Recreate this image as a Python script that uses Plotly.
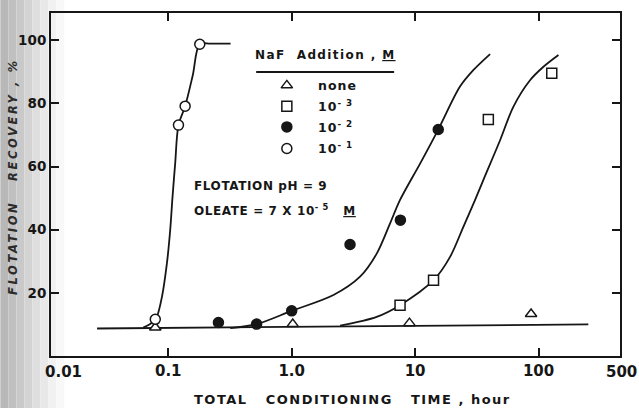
import plotly.graph_objects as go

# ---- measured points: flotation recovery (%) vs. total conditioning time (h)
# no NaF added (open triangles)
t_none = [0.0785, 1.02, 9.0, 87.0]
r_none = [9.0, 10.1, 10.4, 13.3]
# 1e-3 M NaF (open squares)
t_e3 = [7.55, 14.1, 39.2, 128.0]
r_e3 = [16.1, 24.0, 74.9, 89.5]
# 1e-2 M NaF (filled circles)
t_e2 = [0.255, 0.52, 1.0, 2.97, 7.6, 15.4]
r_e2 = [10.6, 10.1, 14.3, 35.3, 43.0, 71.7]
# 1e-1 M NaF (open circles)
t_e1 = [0.0785, 0.121, 0.137, 0.18]
r_e1 = [11.6, 73.1, 79.1, 98.7]

# ---- hand-drawn trend curves
base_t = [0.0265, 253.0]
base_r = [8.7, 10.0]
fit_e1_t = [0.0627, 0.0714, 0.0785, 0.0809, 0.0889, 0.0975, 0.1037, 0.1083, 0.1138, 0.121, 0.137, 0.158, 0.18, 0.22, 0.32]
fit_e1_r = [9.0, 10.1, 11.6, 12.4, 18.7, 29.3, 39.9, 50.4, 61.0, 73.1, 79.1, 88.9, 98.7, 98.9, 98.9]
fit_e2_t = [0.318, 0.52, 1.0, 2.18, 3.58, 4.9, 6.27, 7.55, 11.0, 15.4, 23.1, 29.6, 40.5]
fit_e2_r = [8.8, 10.1, 14.3, 19.3, 25.1, 32.5, 42.0, 49.4, 61.0, 71.7, 85.3, 90.5, 95.6]
fit_e3_t = [2.47, 4.88, 7.55, 14.1, 19.2, 24.6, 30.5, 35.7, 48.8, 62.5, 85.3, 109.0, 145.0]
fit_e3_r = [9.6, 12.4, 16.1, 24.0, 31.4, 40.9, 49.3, 55.7, 68.3, 78.9, 87.3, 91.5, 95.3]

# ---- axis ticks
x_tickvals = [0.1, 1, 10, 100]
x_ticktext = ["0.1", "1.0", "10", "100"]
y_tickvals = [20, 40, 60, 80, 100]

# ---- legend rows
legend_labels = ["none", "10<sup>- 3</sup>", "10<sup>- 2</sup>", "10<sup>- 1</sup>"]
legend_symbols = ["triangle-up-open", "square-open", "circle", "circle-open"]

INK = "#161616"
FONT = "DejaVu Sans"

fig = go.Figure()

line_style = dict(color=INK, width=1.8, shape="spline", smoothing=0.9)
for tx, ry in [(base_t, base_r), (fit_e1_t, fit_e1_r), (fit_e2_t, fit_e2_r), (fit_e3_t, fit_e3_r)]:
    fig.add_trace(go.Scatter(x=tx, y=ry, mode="lines", line=line_style,
                             showlegend=False, hoverinfo="skip"))

marker_common = dict(size=10, line=dict(color=INK, width=1.5))
series = [
    (t_none, r_none, "triangle-up", "white"),
    (t_e3, r_e3, "square", "white"),
    (t_e2, r_e2, "circle", INK),
    (t_e1, r_e1, "circle", "white"),
]
for tx, ry, sym, fill in series:
    fig.add_trace(go.Scatter(x=tx, y=ry, mode="markers",
                             marker=dict(symbol=sym, color=fill, **marker_common),
                             showlegend=False))

# key symbols drawn on an overlay axis spanning the plot area (0..1)
key_x = 0.4145
key_y = [0.789, 0.728, 0.668, 0.605]
for sym, yy in zip(legend_symbols, key_y):
    filled = sym == "circle"
    fig.add_trace(go.Scatter(
        x=[key_x], y=[yy], xaxis="x2", yaxis="y2", mode="markers",
        marker=dict(symbol=sym.replace("-open", ""), size=10,
                    color=INK if filled else "white",
                    line=dict(color=INK, width=1.5)),
        showlegend=False, hoverinfo="skip"))

annotations = []


def txt(text, x, y, size, xanchor="left", yanchor="middle", angle=0, color=INK,
        spacing=0, weight="bold", italic=False):
    if spacing:
        text = f'<span style="letter-spacing:{spacing}px">{text}</span>'
    annotations.append(dict(text=text, x=x, y=y, xref="paper", yref="paper",
                            xanchor=xanchor, yanchor=yanchor, showarrow=False,
                            textangle=angle,
                            font=dict(family=FONT, size=size, color=color, weight=weight,
                                      style="italic" if italic else "normal")))


# legend heading and rows
txt("NaF  Addition , <u>M</u>", 0.482, 0.877, 12, xanchor="center", spacing=1.4)
for lab, yy in zip(legend_labels, key_y):
    txt(lab, 0.4655, yy, 12.5, spacing=1)

# experimental conditions
txt("FLOTATION pH = 9", 0.2477, 0.4952, 12, spacing=0.6)
txt("OLEATE = 7 X 10<sup>- 5</sup>   <u>M</u>", 0.2477, 0.4253, 12, spacing=0.6)

# end labels of the time axis
txt("0.01", 0.0216, -0.0457, 15, xanchor="center")
txt("500", 1.0018, -0.0457, 15, xanchor="center")

# axis titles
txt("TOTAL   CONDITIONING   TIME , hour", 0.5292, -0.1282, 13, xanchor="center", spacing=1.5)
txt("FLOTATION   RECOVERY , %", -0.068, 0.523, 11.5, xanchor="center", angle=-90,
    color="#2a2a2a", spacing=2.6, italic=True)

# rule under the key heading, plus the grey page gutter on the left
shapes = [dict(type="line", xref="paper", yref="paper", x0=0.3606, x1=0.6030,
               y0=0.828, y1=0.828, line=dict(color=INK, width=2))]
gutter = ["#b8b8b8", "#c0c0c0", "#c9c9c9", "#d3d3d3", "#dedede", "#e8e8e8", "#f1f1f1", "#f8f8f8"]
px_w = 569.3
for i, g in enumerate(gutter):
    x0 = (i * 8 - 50.7) / px_w
    x1 = ((i + 1) * 8 - 50.7) / px_w
    shapes.append(dict(type="rect", xref="paper", yref="paper", x0=x0, x1=x1,
                       y0=-0.16, y1=1.04, line=dict(width=0), fillcolor=g, layer="below"))

axis_common = dict(showline=True, linecolor=INK, linewidth=2, mirror="ticks",
                   ticks="inside", ticklen=8, tickwidth=1.5, tickcolor=INK,
                   showgrid=False, zeroline=False)

fig.update_layout(
    width=639, height=408,
    margin=dict(l=51, r=19, t=13, b=52),
    paper_bgcolor="white", plot_bgcolor="rgba(0,0,0,0)",
    xaxis=dict(type="log", range=[-1.95, 2.66], tickvals=x_tickvals, ticktext=x_ticktext,
               tickfont=dict(family=FONT, size=15, color=INK, weight="bold"), **axis_common),
    yaxis=dict(range=[0, 108.6], tickvals=y_tickvals,
               tickfont=dict(family=FONT, size=13.5, color=INK, weight="bold"), **axis_common),
    xaxis2=dict(overlaying="x", range=[0, 1], visible=False),
    yaxis2=dict(overlaying="y", range=[0, 1], visible=False),
    annotations=annotations,
    shapes=shapes,
    showlegend=False,
)

fig.write_html("out.html")
